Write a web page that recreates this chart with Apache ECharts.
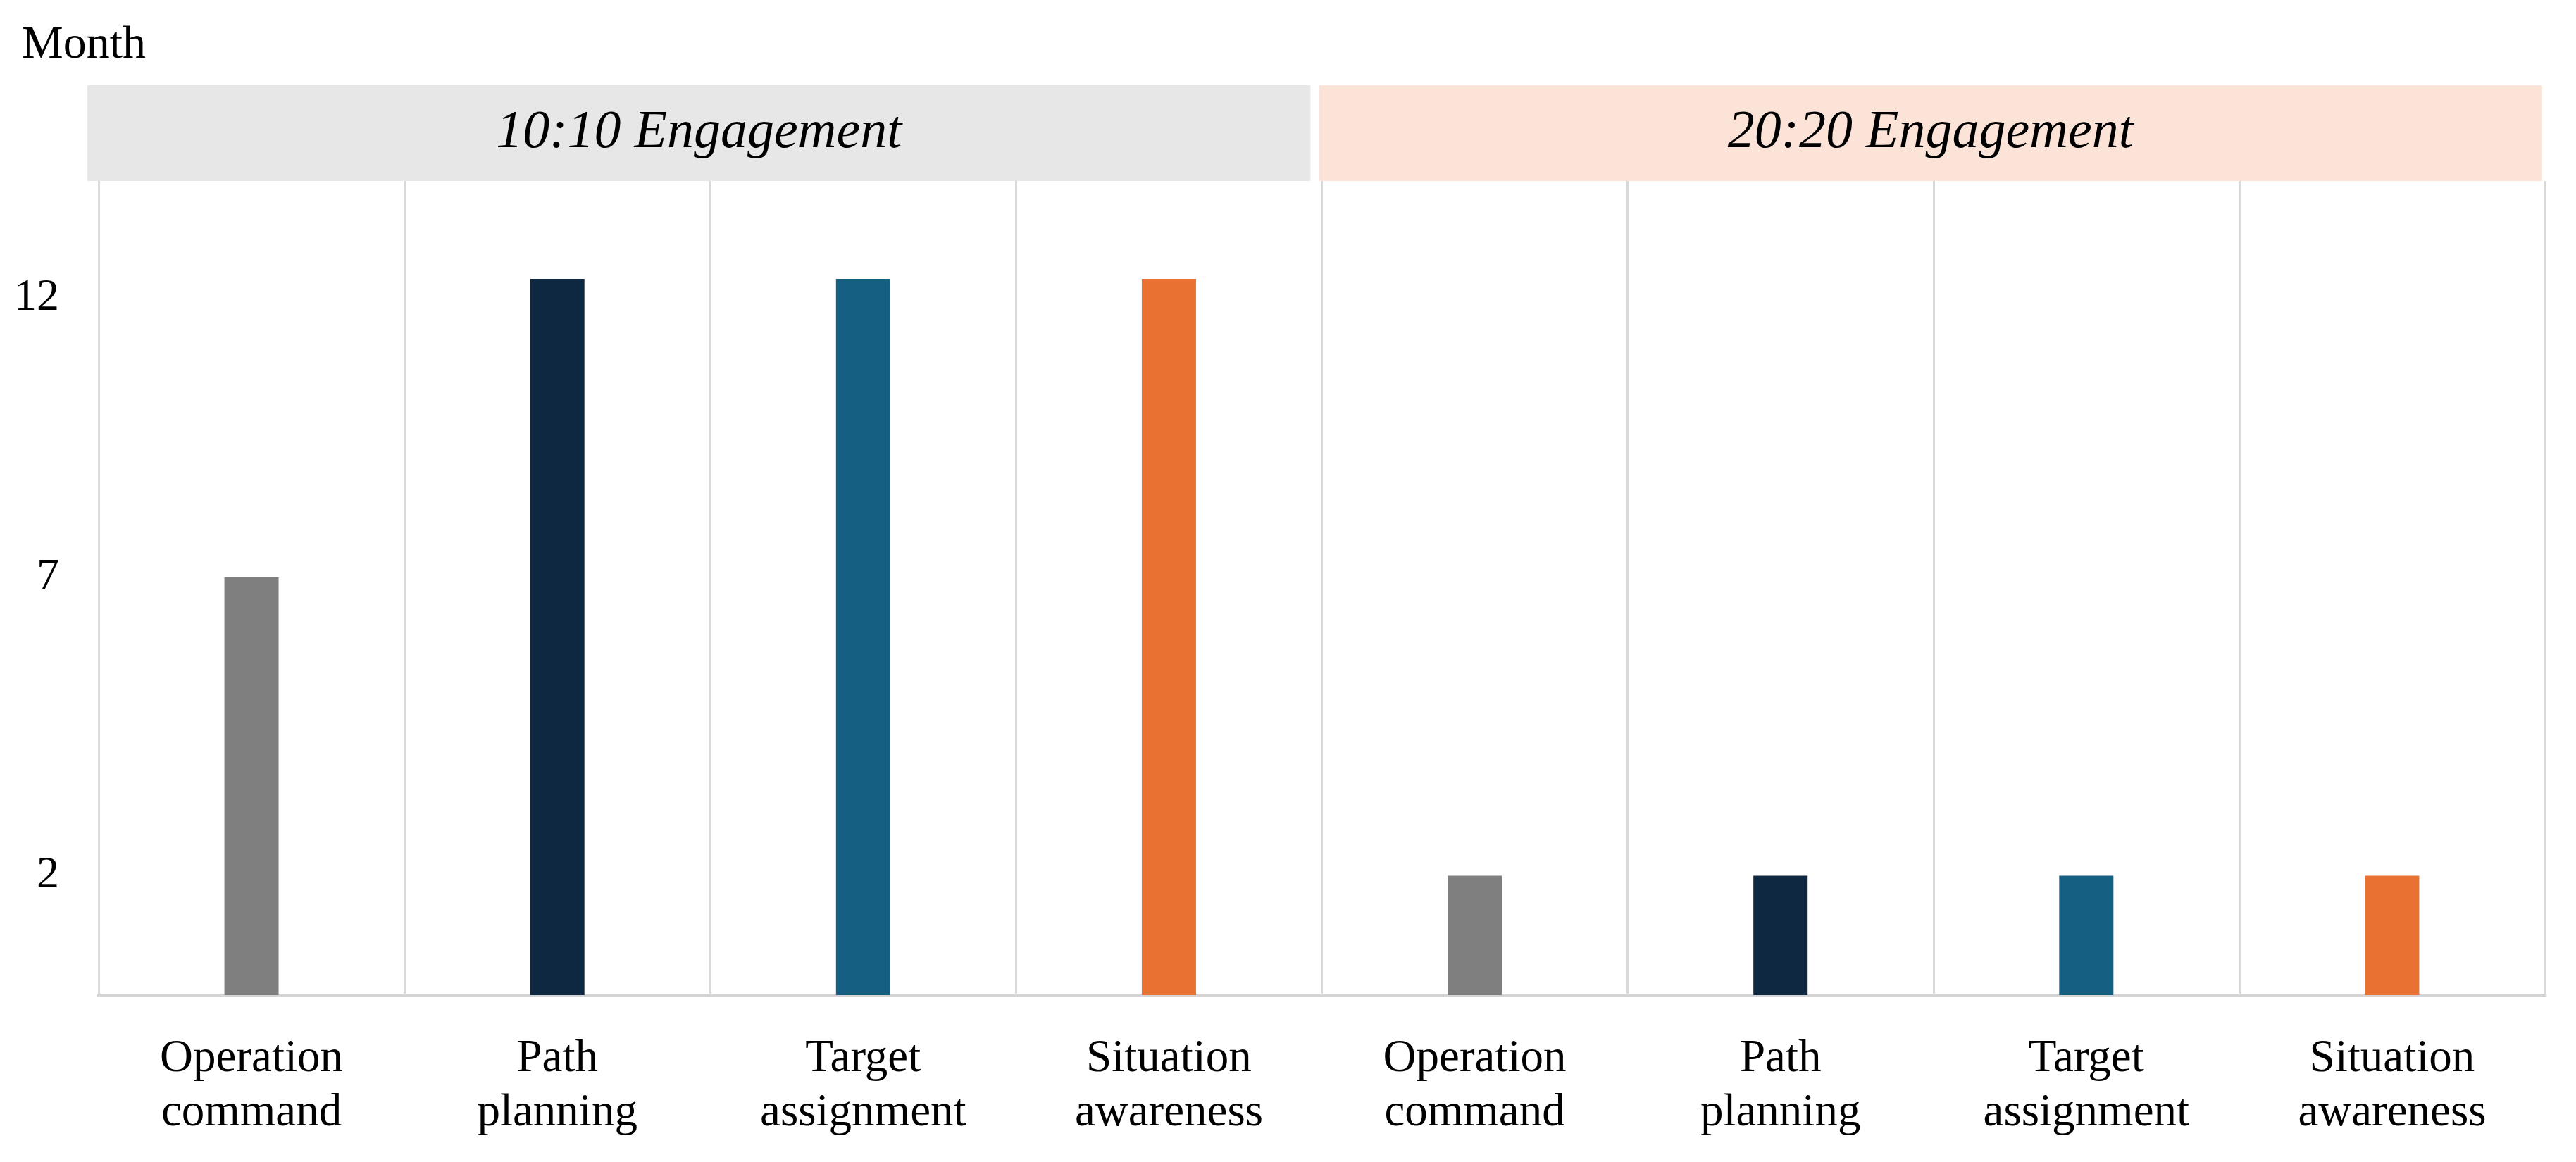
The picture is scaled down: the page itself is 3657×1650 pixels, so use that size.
<!DOCTYPE html>
<html>
<head>
<meta charset="utf-8">
<script src="https://cdn.jsdelivr.net/npm/echarts@6/dist/echarts.min.js"></script>
<style>
html,body{margin:0;padding:0;background:#fff;}
#chart{width:3657px;height:1650px;}
</style>
</head>
<body>
<div id="chart"></div>
<script>
const groups = ['10:10 Engagement', '20:20 Engagement'];
const tasks = ['Operation\ncommand', 'Path\nplanning', 'Target\nassignment', 'Situation\nawareness'];
const values1010 = [7, 12, 12, 12];
const values2020 = [2, 2, 2, 2];
const yTicks = [2, 7, 12];
const taskColors = ['#7f7f7f', '#0e2841', '#156082', '#e97132'];
const groupColors = ['#e7e7e7', '#fbe4d7'];

const categories = tasks.concat(tasks);
const values = values1010.concat(values2020);
const barData = values.map((v, i) => ({ value: v, itemStyle: { color: taskColors[i % tasks.length] } }));
const headerData = groups.map((g, i) => ({ value: 1, name: g, itemStyle: { color: groupColors[i] } }));

const FONT = "'Liberation Serif', 'Times New Roman', serif";
const chart = echarts.init(document.getElementById('chart'), null, { renderer: 'canvas' });
chart.setOption({
  animation: false,
  backgroundColor: '#ffffff',
  title: {
    text: 'Month', left: 26, top: 27,
    textStyle: { fontFamily: FONT, fontSize: 66, fontWeight: 'normal', color: '#000' }
  },
  grid: [
    { left: 140, right: 44, top: 257, bottom: 237 },
    { left: 118, right: 42, top: 121, height: 136 }
  ],
  xAxis: [
    {
      type: 'category', gridIndex: 0, data: categories,
      axisLine: { show: true, lineStyle: { color: '#d4d4d4', width: 5 } },
      axisTick: { show: false },
      splitLine: { show: true, interval: 0, lineStyle: { color: '#d9d9d9', width: 3 } },
      axisLabel: {
        interval: 0, margin: 52,
        fontFamily: FONT, fontSize: 65, lineHeight: 77, color: '#000'
      }
    },
    { type: 'category', gridIndex: 1, data: groups, show: false }
  ],
  yAxis: [
    {
      type: 'value', gridIndex: 0, min: 0, max: 13.64,
      axisLine: { show: false }, axisTick: { show: false }, splitLine: { show: false },
      axisLabel: {
        customValues: yTicks, margin: 56,
        fontFamily: FONT, fontSize: 64, color: '#000',
        formatter: function (v) { return v === 12 ? '{low|' + v + '}' : '{n|' + v + '}'; },
        rich: {
          low: { fontFamily: FONT, fontSize: 64, color: '#000', padding: [54, 0, 0, 0] },
          n: { fontFamily: FONT, fontSize: 64, color: '#000' }
        }
      }
    },
    { type: 'value', gridIndex: 1, min: 0, max: 1, show: false }
  ],
  series: [
    {
      type: 'bar', xAxisIndex: 0, yAxisIndex: 0, data: barData, barWidth: 77
    },
    {
      type: 'bar', xAxisIndex: 1, yAxisIndex: 1, data: headerData, barCategoryGap: '0.7%',
      silent: true,
      label: {
        show: true, position: 'inside', formatter: '{b}',
        fontFamily: FONT, fontStyle: 'italic', fontSize: 76, color: '#000'
      }
    }
  ]
});
</script>
</body>
</html>
